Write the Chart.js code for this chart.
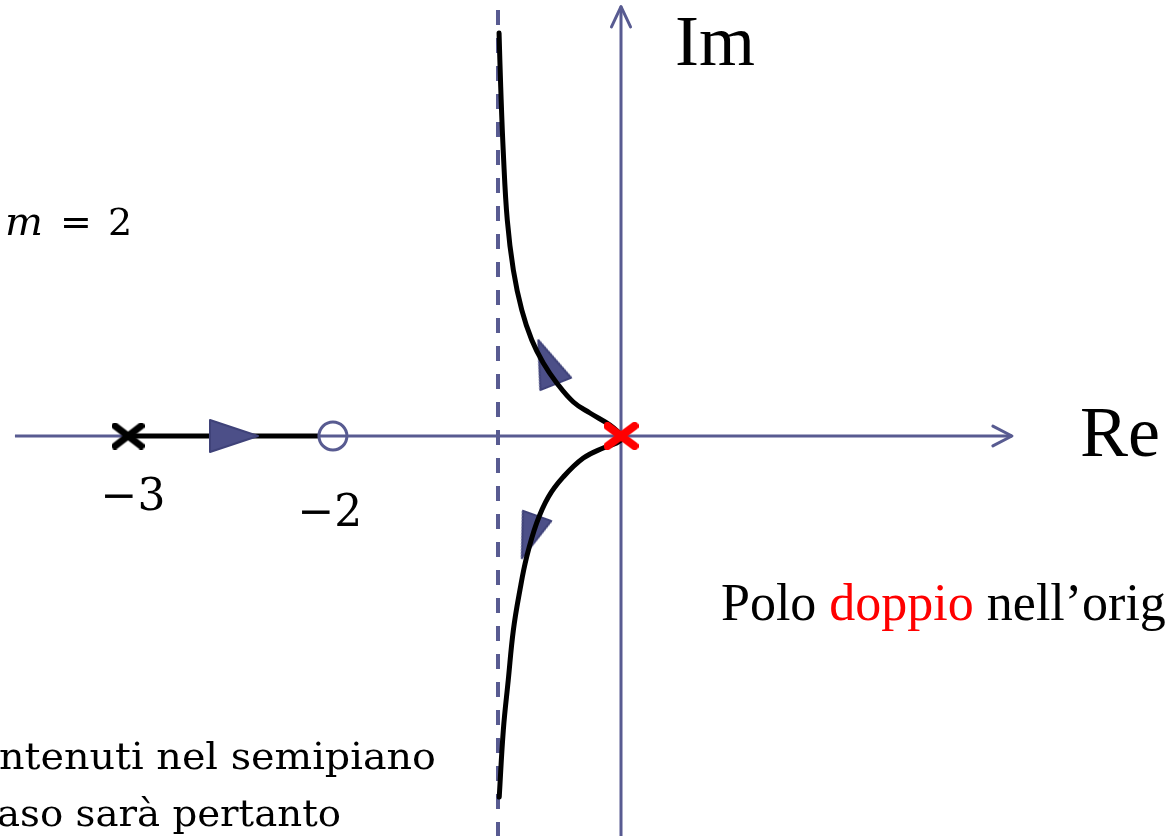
<!DOCTYPE html>
<html>
<head>
<meta charset="utf-8">
<script src="https://cdn.jsdelivr.net/npm/chart.js@4/dist/chart.umd.min.js"></script>
<style>
  html, body { margin: 0; padding: 0; background: #ffffff; overflow: hidden; }
  #wrap { width: 1165px; height: 836px; }
</style>
</head>
<body>
<div id="wrap"><canvas id="c" width="1165" height="836"></canvas></div>
<script>
// ---- data (schematic units, origin at the double pole) ----
const poleReal = [-3];            // simple pole on the real axis
const poleOrigin = [0];           // double pole in the origin
const zeroReal = [-1.753];        // zero (drawn at "-2")
const asymptoteRe = -0.7485;      // vertical asymptote
const asymptoteIm = [2.592, -2.5];
const realLocusX = [-3, -1.844];
const upperBranchX = [0, -0.018, -0.067, -0.189, -0.290, -0.391, -0.473, -0.543, -0.604, -0.655, -0.692, -0.716, -0.732, -0.742];
const upperBranchY = [0, 0.024, 0.067, 0.140, 0.207, 0.323, 0.444, 0.584, 0.767, 1.010, 1.314, 1.722, 2.124, 2.452];
const lowerBranchX = [0, -0.026, -0.108, -0.229, -0.351, -0.442, -0.513, -0.574, -0.615, -0.655, -0.686, -0.716, -0.741];
const lowerBranchY = [-0.024, -0.043, -0.073, -0.134, -0.249, -0.371, -0.529, -0.736, -0.937, -1.181, -1.485, -1.789, -2.197];
const arrowX = [-2.355, -0.450, -0.557];
const arrowY = [0, 0.450, -0.615];
const reAxisX = [-3.688, 2.379];
const imAxisY = [-2.5, 2.613];
const tickLabels = ['\u22123', '\u22122'];

// ---- styling helpers ----
const NAVY = '#585b91';
const TRI_FILL = '#4c4f88';
const TRI_EDGE = '#3f4279';

function triangleImg(len, base) {
  const c = document.createElement('canvas');
  c.width = len + 4; c.height = base + 4;
  const g = c.getContext('2d');
  g.beginPath();
  g.moveTo(2, 2); g.lineTo(len + 2, base / 2 + 2); g.lineTo(2, base + 2); g.closePath();
  g.fillStyle = TRI_FILL; g.fill();
  g.lineWidth = 2; g.lineJoin = 'round'; g.strokeStyle = TRI_EDGE; g.stroke();
  return c;
}
function crossImg(w, h, color, lw) {
  const c = document.createElement('canvas');
  c.width = w; c.height = h;
  const g = c.getContext('2d');
  g.strokeStyle = color; g.lineWidth = lw; g.lineCap = 'round';
  const p = lw / 2;
  g.beginPath();
  g.moveTo(p, p); g.lineTo(w - p, h - p);
  g.moveTo(w - p, p); g.lineTo(p, h - p);
  g.stroke();
  return c;
}

const S = 164.33;
const xMin = -621 / S, xMax = 544 / S, yMax = 436 / S, yMin = -400 / S;

const pts = (xs, ys) => xs.map((x, i) => ({ x, y: ys[i] }));

const lineDs = (data, color, width, order, extra) => Object.assign({
  data, showLine: true, borderColor: color, borderWidth: width, pointRadius: 0,
  fill: false, tension: 0, order, borderCapStyle: 'round', borderJoinStyle: 'round'
}, extra || {});

const datasets = [
  // axes
  lineDs(pts(reAxisX, [0, 0]), NAVY, 3, 20, { borderCapStyle: 'butt' }),
  lineDs([{ x: reAxisX[1] - 0.116, y: 0.06 }, { x: reAxisX[1], y: 0 }, { x: reAxisX[1] - 0.116, y: -0.06 }], NAVY, 3, 20),
  lineDs(pts([0, 0], imAxisY), NAVY, 3, 20, { borderCapStyle: 'butt' }),
  lineDs([{ x: -0.058, y: imAxisY[1] - 0.123 }, { x: 0, y: imAxisY[1] }, { x: 0.058, y: imAxisY[1] - 0.123 }], NAVY, 3, 20),
  // asymptote
  lineDs(pts([asymptoteRe, asymptoteRe], asymptoteIm), NAVY, 4, 19, { borderDash: [15, 13], borderCapStyle: 'butt' }),
  // locus on the real axis
  lineDs(pts(realLocusX, [0, 0]), '#000000', 5, 10, { borderCapStyle: 'butt' }),
  // branch arrows (drawn under the branches)
  {
    data: pts(arrowX.slice(1), arrowY.slice(1)), showLine: false, order: 12,
    pointStyle: [triangleImg(47, 33), triangleImg(45, 30)],
    rotation: [-111.7, 109.7], pointRadius: 20
  },
  // complex branches
  lineDs(pts(upperBranchX, upperBranchY), '#000000', 5, 8, { tension: 0.4 }),
  lineDs(pts(lowerBranchX, lowerBranchY), '#000000', 5, 8, { tension: 0.4 }),
  // real-axis arrow (over the black segment)
  {
    data: pts(arrowX.slice(0, 1), arrowY.slice(0, 1)), showLine: false, order: 4,
    pointStyle: triangleImg(48, 32), rotation: 0, pointRadius: 20
  },
  // zero
  {
    data: pts(zeroReal, [0]), showLine: false, order: 3,
    pointStyle: 'circle', pointRadius: 14, borderWidth: 3,
    borderColor: NAVY, backgroundColor: 'rgba(0,0,0,0)'
  },
  // poles
  {
    data: pts(poleReal, [0]), showLine: false, order: 2,
    pointStyle: crossImg(33, 27, '#000000', 7), pointRadius: 18
  },
  {
    data: pts(poleOrigin, [0]), showLine: false, order: 1,
    pointStyle: crossImg(35, 28, '#ff0000', 8), pointRadius: 18
  }
];

function fitText(ctx, text, x, y, font, color, targetW) {
  ctx.save();
  ctx.font = font; ctx.fillStyle = color; ctx.textBaseline = 'alphabetic'; ctx.textAlign = 'left';
  if (targetW) {
    const w = ctx.measureText(text).width;
    ctx.translate(x, y); ctx.scale(targetW / w, 1); ctx.fillText(text, 0, 0);
  } else {
    ctx.fillText(text, x, y);
  }
  ctx.restore();
}

const textPlugin = {
  id: 'texts',
  afterDatasetsDraw(chart) {
    const ctx = chart.ctx;
    const sx = chart.scales.x, sy = chart.scales.y;
    // axis names
    fitText(ctx, 'Im', 675, 65, '72px "Liberation Serif"', '#000');
    fitText(ctx, 'Re', 1080, 456, '72px "Liberation Serif"', '#000');
    // tick labels under the real-axis singularities
    ctx.save();
    ctx.font = '44px "DejaVu Serif"'; ctx.fillStyle = '#000'; ctx.textAlign = 'center';
    ctx.fillText(tickLabels[0], sx.getPixelForValue(poleReal[0]) + 5, sy.getPixelForValue(0) + 74);
    ctx.fillText(tickLabels[1], sx.getPixelForValue(zeroReal[0]) - 3, sy.getPixelForValue(0) + 90);
    ctx.restore();
    // m = 2
    ctx.save();
    ctx.fillStyle = '#000'; ctx.textAlign = 'center';
    ctx.font = 'italic 40px "DejaVu Serif"'; ctx.fillText('m', 24, 235);
    ctx.font = '38px "DejaVu Serif"'; ctx.fillText('=', 76, 235); ctx.fillText('2', 120, 235);
    ctx.restore();
    // Polo doppio nell'origine
    ctx.save();
    ctx.font = '52px "Liberation Serif"'; ctx.textAlign = 'left';
    let x = 721;
    const parts = [['Polo ', '#000'], ['doppio', '#ff0000'], [' nell\u2019origine', '#000']];
    for (const [t, c] of parts) { ctx.fillStyle = c; ctx.fillText(t, x, 620); x += ctx.measureText(t).width; }
    ctx.restore();
    // bottom text (cut off at the left edge)
    fitText(ctx, 'ntenuti nel semipiano', -1, 769, '38px "DejaVu Serif"', '#000', 437);
    fitText(ctx, 'aso sar\u00e0 pertanto', -3, 826, '38px "DejaVu Serif"', '#000', 344);
  }
};

new Chart(document.getElementById('c'), {
  type: 'scatter',
  data: { datasets },
  options: {
    responsive: false, animation: false, devicePixelRatio: 1,
    layout: { padding: 0, autoPadding: false },
    plugins: { legend: { display: false }, tooltip: { enabled: false } },
    elements: { point: { hoverRadius: 0 } },
    scales: {
      x: { type: 'linear', min: xMin, max: xMax, display: false },
      y: { type: 'linear', min: yMin, max: yMax, display: false }
    }
  },
  plugins: [textPlugin]
});
</script>
</body>
</html>
